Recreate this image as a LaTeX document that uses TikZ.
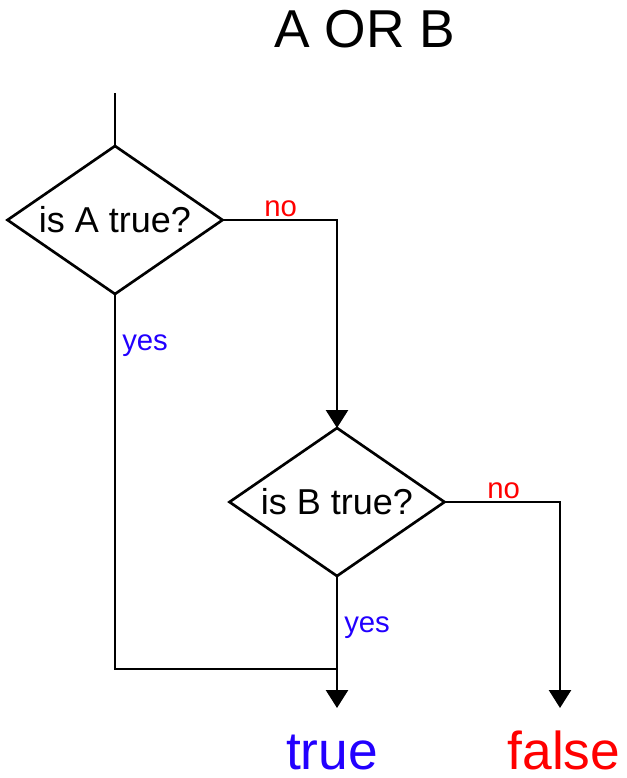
\documentclass[tikz,border=0pt]{standalone}
\usepackage{fontspec}
\setmainfont{Liberation Sans}
\usetikzlibrary{shapes.geometric,arrows.meta}

\tikzset{
  decision/.style={diamond, draw, line width=2pt, inner sep=0pt, outer sep=0pt, shape aspect=1.45, minimum width=161.25pt, minimum height=111pt, font=\fontsize{27}{27}\selectfont},
  flow/.style={line width=2pt, line join=miter},
  flowarrow/.style={flow, -{Triangle[length=13.5pt,width=16.5pt]}},
  nolabel/.style={inner sep=0pt, anchor=base west, text={rgb,255:red,255;green,0;blue,0}, font=\fontsize{22}{22}\selectfont},
  yeslabel/.style={inner sep=0pt, anchor=base west, text={rgb,255:red,34;green,0;blue,255}, font=\fontsize{22}{22}\selectfont},
  bigtext/.style={inner sep=0pt, anchor=base, text depth=0pt, font=\fontsize{40}{40}\selectfont}
}

\begin{document}
\begin{tikzpicture}[x=0.75pt,y=0.75pt,yscale=-1,xscale=1]
\useasboundingbox (0,0) rectangle (626,778);

%Title
\node [bigtext] (title) at (365,47) {A OR B};

%Decisions
\node [decision] (isA) at (115,220) {is A true?};
\node [decision] (isB) at (337,502) {is B true?};

%Results
\node [bigtext, text={rgb,255:red,34;green,0;blue,255}] (true) at (332,769) {true};
\node [bigtext, text={rgb,255:red,255;green,0;blue,0}] (false) at (564,769) {false};

%Free ends
\coordinate (start) at (115,93);
\coordinate (join) at (337,669);
\coordinate (trueIn) at (337,708);
\coordinate (falseIn) at (560,708);

%Connectors
\draw [flow] (start) -- (isA.north);
\draw [flowarrow] (isA.east) -| (isB.north);
\draw [flow] (isA.south) |- (join);
\draw [flowarrow] (isB.south) -- (trueIn);
\draw [flowarrow] (isB.east) -| (falseIn);

%Labels
\node [nolabel] (noA) at (264,216) {no};
\node [yeslabel] (yesA) at (122,350) {yes};
\node [nolabel] (noB) at (487,498) {no};
\node [yeslabel] (yesB) at (344,632) {yes};
\end{tikzpicture}
\end{document}
